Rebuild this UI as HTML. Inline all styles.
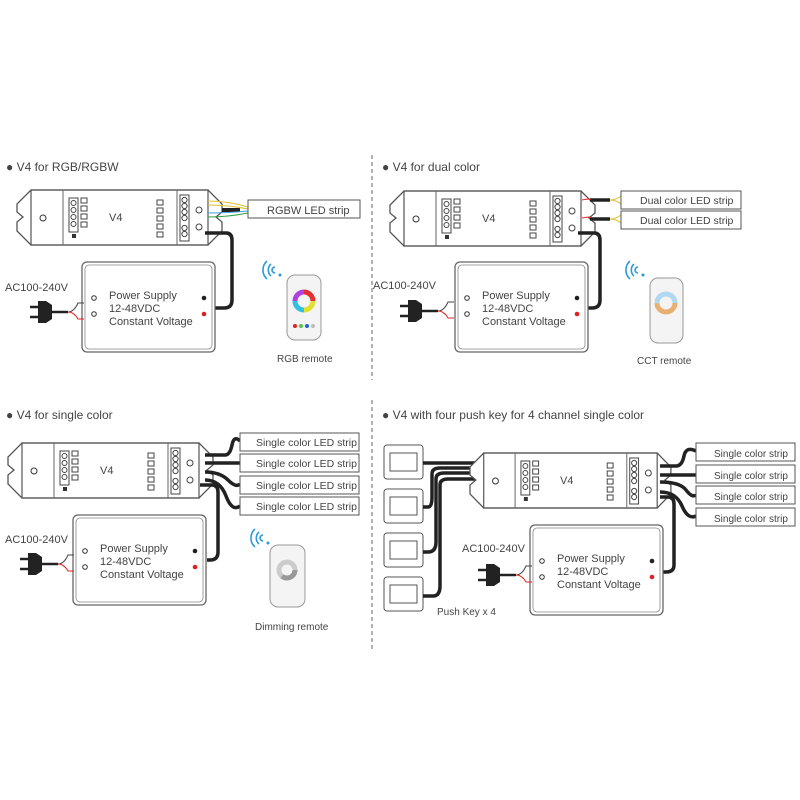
<!DOCTYPE html>
<html><head><meta charset="utf-8"><style>
html,body{margin:0;padding:0;background:#fff}
svg{display:block}
text{font-family:"Liberation Sans",sans-serif;fill:#444}
</style></head><body>
<svg width="800" height="800" viewBox="0 0 800 800" xmlns="http://www.w3.org/2000/svg">
<defs>
<g id="ctl">
<path d="M14,0 H191 L205,14 V22 L199,27 L205,32 V41 L191,55 H14 L0,41 V32 L6,27 L0,22 V14 Z" fill="#fff" stroke="#555" stroke-width="1.3"/>
<rect x="14" y="0" width="177" height="55" fill="none" stroke="#555" stroke-width="1.2"/>
<line x1="46" y1="0" x2="46" y2="55" stroke="#666"/>
<line x1="160" y1="0" x2="160" y2="55" stroke="#666"/>
<circle cx="26" cy="28" r="3" fill="none" stroke="#333"/>
<rect x="52" y="8" width="9" height="34" fill="none" stroke="#444"/>
<circle cx="56.5" cy="13" r="2.5" fill="none" stroke="#444"/><circle cx="56.5" cy="20" r="2.5" fill="none" stroke="#444"/><circle cx="56.5" cy="27" r="2.5" fill="none" stroke="#444"/><circle cx="56.5" cy="34" r="2.5" fill="none" stroke="#444"/>
<rect x="64" y="8" width="6" height="5" fill="none" stroke="#444"/><rect x="64" y="16" width="6" height="5" fill="none" stroke="#444"/><rect x="64" y="24" width="6" height="5" fill="none" stroke="#444"/><rect x="64" y="32" width="6" height="5" fill="none" stroke="#444"/>
<rect x="55" y="44" width="4" height="4" fill="#333"/>
<rect x="140" y="10" width="6" height="5" fill="none" stroke="#444"/><rect x="140" y="18" width="6" height="5" fill="none" stroke="#444"/><rect x="140" y="26" width="6" height="5" fill="none" stroke="#444"/><rect x="140" y="34" width="6" height="5" fill="none" stroke="#444"/><rect x="140" y="42" width="6" height="5" fill="none" stroke="#444"/>
<rect x="163" y="5" width="9" height="46" fill="none" stroke="#444"/>
<circle cx="167.5" cy="10" r="2.6" fill="none" stroke="#444"/><circle cx="167.5" cy="16" r="2.6" fill="none" stroke="#444"/><circle cx="167.5" cy="22" r="2.6" fill="none" stroke="#444"/><circle cx="167.5" cy="28" r="2.6" fill="none" stroke="#444"/><circle cx="167.5" cy="38" r="2.6" fill="none" stroke="#444"/><circle cx="167.5" cy="44" r="2.6" fill="none" stroke="#444"/>
<circle cx="182" cy="20" r="3" fill="none" stroke="#444"/><circle cx="182" cy="37" r="3" fill="none" stroke="#444"/>
<text x="92" y="31" font-size="11">V4</text>
</g>
<g id="ps">
<rect x="0" y="0" width="133" height="90" rx="5" fill="#fff" stroke="#666" stroke-width="1.3"/>
<rect x="3" y="3" width="127" height="84" rx="4" fill="none" stroke="#888" stroke-width="0.8"/>
<circle cx="12" cy="36" r="2.3" fill="none" stroke="#333"/><circle cx="12" cy="52" r="2.3" fill="none" stroke="#333"/>
<circle cx="122" cy="36" r="2.3" fill="#222"/><circle cx="122" cy="52" r="2.3" fill="#e02020"/>
<text x="27" y="37" font-size="11">Power Supply</text>
<text x="27" y="50" font-size="11">12-48VDC</text>
<text x="27" y="63" font-size="11">Constant Voltage</text>
</g>
<g id="plug">
<path d="M0,0 h8 M0,10 h8" stroke="#222" stroke-width="2.5"/>
<path d="M8,-6 h8 l6,4 v14 l-6,4 h-8 z" fill="#222"/>
<path d="M22,5 h16" stroke="#222" stroke-width="2.5"/>
<path d="M38,5 q6,0 10,-9 h6" stroke="#444" fill="none"/>
<path d="M38,5 q6,0 10,7 h6" stroke="#e02020" fill="none"/>
</g>
<g id="wifi" fill="none" stroke="#2a9ad8" stroke-width="1.6">
<path d="M7,2 a8,8 0 0 0 0,12"/><path d="M3,-1 a12,12 0 0 0 0,18"/><path d="M11,5 a3,3 0 0 0 0,6"/>
<circle cx="16" cy="13" r="1.5" fill="#2a9ad8" stroke="none"/>
</g>
</defs>

<line x1="372" y1="155" x2="372" y2="380" stroke="#666" stroke-dasharray="4,3"/>
<line x1="372" y1="400" x2="372" y2="650" stroke="#666" stroke-dasharray="4,3"/>

<!-- Panel 1 -->
<text x="6" y="171" font-size="12" fill="#333">● V4 for RGB/RGBW</text>
<use href="#ctl" transform="translate(17,190)"/>
<path d="M222,210 H240" stroke="#222" stroke-width="4"/>
<path d="M208,201 q20,0 40,6 M208,205 q20,0 40,4" stroke="#e0c030" fill="none"/>
<path d="M208,213 q20,0 40,-2" stroke="#3ca0e0" fill="none"/><path d="M208,217 q20,0 40,-4" stroke="#30a040" fill="none"/>
<rect x="248" y="200" width="112" height="18" fill="#fff" stroke="#555"/>
<text x="267" y="214" font-size="11">RGBW LED strip</text>
<path d="M205,233 H226 Q232,233 232,240 V300 Q232,308 224,308 H215" stroke="#222" stroke-width="3.5" fill="none"/>
<use href="#ps" transform="translate(82,262)"/>
<text x="5" y="291" font-size="11">AC100-240V</text>
<use href="#plug" transform="translate(30,307)"/>
<use href="#wifi" transform="translate(264,262)"/>
<rect x="287" y="275" width="34" height="65" rx="8" fill="#f4f4f4" stroke="#999"/>
<g fill="none" stroke-width="5">
<circle cx="304" cy="301" r="9" stroke="#e03030" stroke-dasharray="14.1,42.4" transform="rotate(-90 304 301)"/>
<circle cx="304" cy="301" r="9" stroke="#e0e030" stroke-dasharray="14.1,42.4" transform="rotate(0 304 301)"/>
<circle cx="304" cy="301" r="9" stroke="#30c0e0" stroke-dasharray="14.1,42.4" transform="rotate(90 304 301)"/>
<circle cx="304" cy="301" r="9" stroke="#b040e0" stroke-dasharray="14.1,42.4" transform="rotate(180 304 301)"/>
</g>
<circle cx="295" cy="326" r="2" fill="#e02020"/><circle cx="301" cy="326" r="2" fill="#60c040"/><circle cx="307" cy="326" r="2" fill="#2060e0"/><circle cx="313" cy="326" r="2" fill="#bbb"/>
<text x="277" y="362" font-size="10">RGB remote</text>

<!-- Panel 2 -->
<text x="382" y="171" font-size="12" fill="#333">● V4 for dual color</text>
<use href="#ctl" transform="translate(390,191)"/>
<path d="M590,200 H610 M590,219 H610" stroke="#222" stroke-width="3.5"/>
<path d="M582,200 q10,-2 8,0 M582,218 q10,-2 8,0" stroke="#e02020" fill="none"/>
<path d="M610,200 q6,0 11,-4 M610,200 q6,0 11,4 M610,219 q6,0 11,-4 M610,219 q6,0 11,4" stroke="#e0c030" fill="none"/>
<rect x="621" y="191" width="120" height="18" fill="#fff" stroke="#555"/>
<rect x="621" y="211" width="120" height="18" fill="#fff" stroke="#555"/>
<text x="640" y="204" font-size="10.5">Dual color LED strip</text>
<text x="640" y="224" font-size="10.5">Dual color LED strip</text>
<path d="M578,233 H594 Q600,233 600,240 V300 Q600,308 592,308 H588" stroke="#222" stroke-width="3.5" fill="none"/>
<use href="#ps" transform="translate(455,262)"/>
<text x="373" y="289" font-size="11">AC100-240V</text>
<use href="#plug" transform="translate(400,306)"/>
<use href="#wifi" transform="translate(627,262)"/>
<rect x="650" y="278" width="33" height="65" rx="8" fill="#f4f4f4" stroke="#999"/>
<circle cx="666" cy="303" r="9" fill="none" stroke="#e8b070" stroke-width="5" stroke-dasharray="28,29"/>
<circle cx="666" cy="303" r="9" fill="none" stroke="#b0d8f0" stroke-width="5" stroke-dasharray="0,28,29,0"/>
<text x="637" y="364" font-size="10">CCT remote</text>

<!-- Panel 3 -->
<text x="6" y="419" font-size="12" fill="#333">● V4 for single color</text>
<use href="#ctl" transform="translate(8,443)"/>
<path d="M205,455 H225 Q230,455 232,445 T240,441 M205,463 H240 M205,472 Q220,472 228,480 T240,484 M205,480 Q220,480 226,496 T240,506" stroke="#222" stroke-width="3.5" fill="none"/>
<rect x="240" y="433" width="119" height="18" fill="#fff" stroke="#555"/>
<rect x="240" y="454" width="119" height="18" fill="#fff" stroke="#555"/>
<rect x="240" y="476" width="119" height="18" fill="#fff" stroke="#555"/>
<rect x="240" y="497" width="119" height="18" fill="#fff" stroke="#555"/>
<text x="256" y="446" font-size="10.5">Single color LED strip</text>
<text x="256" y="467" font-size="10.5">Single color LED strip</text>
<text x="256" y="489" font-size="10.5">Single color LED strip</text>
<text x="256" y="510" font-size="10.5">Single color LED strip</text>
<path d="M200,485 H212 Q218,485 218,492 V552 Q218,560 210,560 H207" stroke="#222" stroke-width="3.5" fill="none"/>
<use href="#ps" transform="translate(73,515)"/>
<text x="5" y="543" font-size="11">AC100-240V</text>
<use href="#plug" transform="translate(20,559)"/>
<use href="#wifi" transform="translate(252,530)"/>
<rect x="270" y="545" width="35" height="62" rx="8" fill="#f4f4f4" stroke="#999"/>
<circle cx="287" cy="570" r="8" fill="none" stroke="#ccc" stroke-width="5"/>
<circle cx="287" cy="570" r="8" fill="none" stroke="#999" stroke-width="5" stroke-dasharray="18,50"/>
<text x="255" y="630" font-size="10">Dimming remote</text>

<!-- Panel 4 -->
<text x="382" y="419" font-size="12" fill="#333">● V4 with four push key for 4 channel single color</text>
<g fill="#fff" stroke="#555">
<rect x="384" y="445" width="39" height="34" rx="3"/><rect x="390" y="453" width="27" height="18"/>
<rect x="384" y="489" width="39" height="34" rx="3"/><rect x="390" y="497" width="27" height="18"/>
<rect x="384" y="533" width="39" height="34" rx="3"/><rect x="390" y="541" width="27" height="18"/>
<rect x="384" y="577" width="39" height="34" rx="3"/><rect x="390" y="585" width="27" height="18"/>
</g>
<path d="M423,463 H478 M423,507 H428 Q432,507 432,497 V474 Q432,468 440,468 H478 M423,552 H428 Q436,552 436,542 V479 Q436,473 444,473 H478 M423,596 H433 Q440,596 440,586 V485 Q440,479 448,479 H478" stroke="#222" stroke-width="3.5" fill="none"/>
<use href="#ctl" transform="translate(470,453) scale(0.98,1)"/>
<path d="M660,466 H676 Q682,466 684,456 T696,451 M660,475 H696 M660,482 Q680,482 686,490 T696,495 M660,492 Q676,492 682,506 T696,516" stroke="#222" stroke-width="3.5" fill="none"/>
<g fill="#fff" stroke="#555">
<rect x="696" y="443" width="99" height="18"/><rect x="696" y="465" width="99" height="18"/><rect x="696" y="486" width="99" height="18"/><rect x="696" y="508" width="99" height="18"/>
</g>
<text x="714" y="457" font-size="10">Single color strip</text>
<text x="714" y="479" font-size="10">Single color strip</text>
<text x="714" y="500" font-size="10">Single color strip</text>
<text x="714" y="522" font-size="10">Single color strip</text>
<path d="M660,497 H668 Q674,497 674,504 V565 Q674,572 666,572 H663" stroke="#222" stroke-width="3.5" fill="none"/>
<use href="#ps" transform="translate(530,525)"/>
<text x="462" y="552" font-size="11">AC100-240V</text>
<use href="#plug" transform="translate(478,570)"/>
<text x="437" y="615" font-size="10">Push Key x 4</text>
</svg>
</body></html>
